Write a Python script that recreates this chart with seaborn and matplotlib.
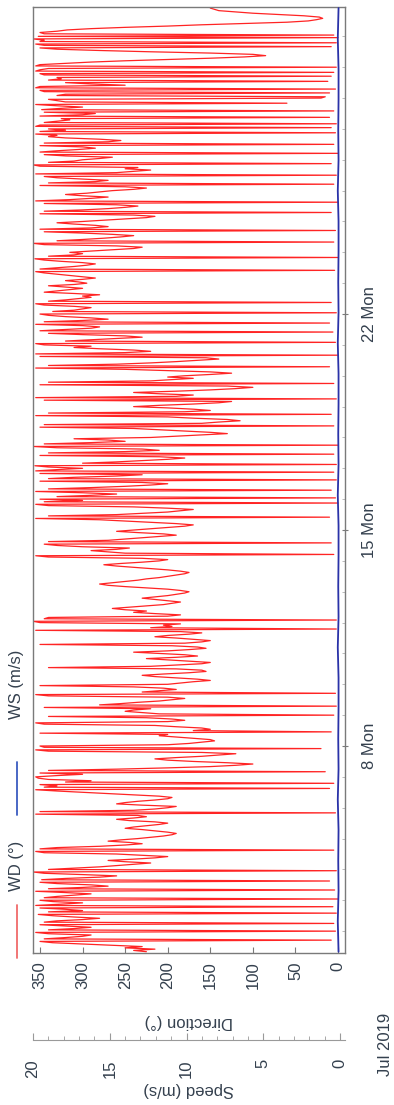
import matplotlib
matplotlib.use("Agg")
import matplotlib.pyplot as plt
import matplotlib.dates as mdates
from matplotlib.lines import Line2D
import seaborn as sns
import pandas as pd
import numpy as np

# wind direction (deg), hourly, one row per day (Jul 1 starts at 08:00)
wd_rows = [
    [225, 240, 215, 250, 230, 265, 300, 335, 350, 8, 345, 320, 300, 290, 340, 355],
    [3, 340, 310, 290, 320, 350, 5, 345, 330, 300, 280, 310, 335, 352, 2, 340, 300, 320, 350, 6, 355, 325, 300, 335],
    [350, 0, 345, 330, 310, 290, 320, 355, 4, 340, 300, 270, 290, 330, 350, 10, 348, 320, 280, 260, 300, 345, 358, 2],
    [340, 310, 280, 260, 240, 220, 250, 270, 240, 215, 200, 230, 260, 345, 355, 5, 350, 330, 280, 250, 230, 245, 270, 255],
    [235, 220, 205, 195, 190, 200, 215, 230, 250, 240, 225, 210, 200, 215, 245, 260, 240, 225, 235, 355, 3, 350, 240, 215],
    [200, 190, 230, 260, 250, 235, 215, 200, 195, 210, 240, 270, 300, 330, 355, 10, 345, 330, 350, 5, 320, 290, 340, 352],
    [355, 330, 300, 350, 15, 340, 260, 200, 150, 120, 100, 130, 170, 200, 215, 190, 160, 140, 120, 160, 340, 355, 20, 345],
    [350, 200, 175, 160, 145, 150, 170, 190, 210, 200, 350, 8, 170, 150, 160, 190, 215, 345, 355, 200, 180, 195, 225, 340],
    [5, 210, 230, 250, 240, 220, 345, 2, 280, 255, 235, 210, 195, 180, 200, 340, 355, 3, 230, 210, 190, 205, 240, 350],
    [200, 185, 170, 150, 165, 190, 215, 230, 205, 175, 155, 160, 190, 340, 220, 190, 160, 150, 175, 200, 225, 190, 165, 180],
    [210, 240, 200, 175, 155, 165, 195, 350, 180, 160, 150, 170, 190, 215, 200, 175, 160, 185, 355, 2, 220, 195, 205, 185],
    [350, 358, 2, 345, 340, 200, 185, 215, 240, 225, 250, 265, 245, 225, 205, 195, 185, 200, 215, 230, 215, 200, 190, 180],
    [175, 185, 200, 225, 250, 270, 280, 265, 250, 235, 225, 210, 200, 190, 180, 175, 185, 200, 220, 240, 260, 275, 255, 230],
    [210, 200, 230, 340, 355, 5, 250, 270, 290, 260, 245, 300, 330, 345, 8, 340, 270, 250, 230, 210, 190, 205, 235, 260],
    [240, 220, 200, 180, 170, 190, 220, 250, 280, 355, 10, 340, 260, 230, 200, 185, 170, 200, 240, 340, 355, 0, 345, 300],
    [350, 3, 330, 290, 260, 300, 355, 8, 340, 290, 250, 220, 200, 230, 350, 2, 340, 310, 260, 230, 350, 5, 355, 330],
    [300, 340, 356, 2, 300, 260, 230, 200, 180, 210, 350, 5, 340, 250, 210, 230, 330, 358, 0, 345, 290, 250, 270, 310],
    [220, 190, 160, 130, 150, 180, 210, 240, 350, 5, 345, 160, 140, 115, 130, 170, 200, 355, 8, 340, 180, 150, 170, 200],
    [240, 210, 170, 140, 125, 345, 2, 355, 190, 170, 210, 240, 190, 150, 120, 100, 130, 350, 5, 340, 220, 195, 170, 200],
    [180, 150, 125, 150, 200, 250, 355, 10, 340, 260, 220, 190, 165, 140, 155, 350, 0, 355, 250, 220, 240, 280, 310, 290],
    [345, 355, 3, 320, 290, 260, 230, 250, 300, 340, 6, 350, 320, 290, 280, 300, 355, 10, 345, 300, 270, 290, 320, 340],
    [350, 2, 335, 310, 300, 290, 310, 345, 355, 8, 340, 320, 305, 290, 300, 280, 310, 345, 330, 315, 300, 320, 340, 310],
    [295, 305, 320, 300, 285, 300, 315, 330, 345, 355, 4, 350, 330, 310, 295, 285, 300, 325, 345, 356, 0, 340, 310, 300],
    [315, 290, 265, 240, 230, 260, 345, 358, 5, 330, 300, 275, 255, 240, 265, 300, 345, 3, 350, 290, 270, 285, 310, 330],
    [300, 275, 250, 225, 215, 240, 350, 8, 345, 300, 270, 250, 235, 260, 345, 0, 355, 315, 290, 270, 300, 320, 295, 280],
    [265, 240, 225, 250, 350, 5, 340, 285, 270, 300, 330, 345, 2, 355, 260, 240, 220, 250, 235, 350, 358, 8, 340, 310],
    [300, 280, 265, 320, 345, 0, 350, 330, 305, 285, 300, 350, 5, 345, 270, 255, 280, 320, 340, 330, 355, 3, 350, 320],
    [340, 8, 355, 350, 2, 345, 330, 315, 325, 10, 350, 300, 285, 345, 5, 348, 325, 300, 330, 355, 60, 320, 330, 340],
    [20, 15, 330, 320, 10, 345, 350, 3, 355, 350, 250, 290, 320, 12, 340, 325, 330, 8, 345, 350, 5, 355, 350, 340],
    [2, 355, 350, 320, 290, 250, 200, 150, 110, 85, 100, 150, 220, 280, 330, 350, 8, 345, 355, 2, 350, 345, 358, 0],
    [352, 5, 345, 350, 330, 318, 290, 250, 200, 160, 110, 60, 35, 25, 18, 22, 40, 70, 100, 120, 140, 145, 150],
]
first_hour = 8

# wind speed (m/s), sensor stays near zero all month
ws_vals = [0.1, 0.15, 0.1, 0.12, 0.1, 0.15, 0.1, 0.12, 0.1, 0.1, 0.15,
           0.1, 0.12, 0.1, 0.1, 0.15, 0.1, 0.12, 0.1, 0.1, 0.15, 0.1,
           0.12, 0.1, 0.1, 0.15, 0.1, 0.12, 0.1, 0.1, 0.15, 0.1]

major_days = [8, 15, 22]

# build the long table
times, vals = [], []
for d, row in enumerate(wd_rows):
    h0 = first_hour if d == 0 else 0
    base = pd.Timestamp("2019-07-01") + pd.Timedelta(days=d)
    for i, v in enumerate(row):
        times.append(base + pd.Timedelta(hours=h0 + i))
        vals.append(v)
wd_df = pd.DataFrame({"time": times, "wd": vals})
ws_time = pd.date_range(times[0], times[-1], periods=len(ws_vals))
ws_df = pd.DataFrame({"time": ws_time, "ws": ws_vals})

sns.set_style("white")
plt.rcParams["font.family"] = ["Liberation Sans", "DejaVu Sans"]
txt = "#34404e"
grey = "#7a7a7a"

W, H = 394, 1105
fig = plt.figure(figsize=(W / 100, H / 100), dpi=100)
ax = fig.add_axes([33 / W, 1 - 953 / H, 312 / W, 946 / H])

sns.lineplot(data=wd_df, x="wd", y="time", orient="y", estimator=None,
             color="#ff2424", lw=0.9, ax=ax)
ax.set_xlim(358.2, -8.2)
ax.set_ylim(mdates.date2num(pd.Timestamp("2019-07-01 07:00")),
            mdates.date2num(pd.Timestamp("2019-07-31 22:50")))

ax.set_xticks(np.arange(0, 351, 50))
ax.tick_params(axis="x", direction="in", length=4, pad=6, labelsize=12,
               labelcolor=txt, color=grey, bottom=True, top=False, labelrotation=90)
ax.yaxis.tick_right()
ax.yaxis.set_major_locator(mdates.DayLocator(bymonthday=major_days))
ax.yaxis.set_minor_locator(mdates.DayLocator())
ax.yaxis.set_major_formatter(plt.FuncFormatter(
    lambda v, p: "%d %s" % (mdates.num2date(v).day, mdates.num2date(v).strftime("%a"))))
ax.tick_params(axis="y", which="major", direction="inout", length=5, pad=10,
               labelsize=12, labelcolor=txt, color=grey, labelrotation=90)
ax.tick_params(axis="y", which="minor", direction="in", length=2.5, color="#b0b0b0")
for lab in ax.get_yticklabels():
    lab.set_verticalalignment("center")
ax.set_xlabel("")
ax.set_ylabel("")
for s in ax.spines.values():
    s.set_color(grey)
    s.set_linewidth(1)

# speed axis, offset below the direction labels
tw = ax.twiny()
sns.lineplot(data=ws_df, x="ws", y="time", orient="y", estimator=None,
             color="#2a32a8", lw=1.3, ax=tw)
tw.set_xlim(19.94, -0.32)
tw.xaxis.set_ticks_position("bottom")
tw.xaxis.set_label_position("bottom")
tw.spines["bottom"].set_position(("outward", 62.5))
for k in ["top", "left", "right"]:
    tw.spines[k].set_visible(False)
tw.spines["bottom"].set_color("#9a9a9a")
tw.set_xticks([0, 5, 10, 15, 20])
tw.set_xticks(np.arange(0, 21, 1), minor=True)
tw.tick_params(axis="x", which="major", direction="in", length=5, pad=14,
               labelsize=12, labelcolor=txt, color="#9a9a9a", labelrotation=90)
tw.tick_params(axis="x", which="minor", direction="in", length=3, color="#9a9a9a")
tw.set_xlabel("")
tw.set_ylabel("")

# axis titles (rotated with the chart)
fig.text(189 / W, 1 - 1022 / H, "Direction (°)", rotation=180, ha="center",
         va="center", fontsize=12, color=txt)
fig.text(189 / W, 1 - 1090 / H, "Speed (m/s)", rotation=180, ha="center",
         va="center", fontsize=12, color=txt)
fig.text(385 / W, 1 - 1044 / H, "Jul 2019", rotation=90, ha="center",
         va="center", fontsize=12, color=txt)

# legend
fig.add_artist(Line2D([17 / W, 17 / W], [1 - 958 / H, 1 - 905 / H],
                      color="#f06a6a", lw=1.3, transform=fig.transFigure))
fig.text(17 / W, 1 - 866 / H, "WD (°)", rotation=90, ha="center", va="center",
         fontsize=12, color=txt)
fig.add_artist(Line2D([17 / W, 17 / W], [1 - 815 / H, 1 - 762 / H],
                      color="#3a5cc0", lw=1.3, transform=fig.transFigure))
fig.text(17 / W, 1 - 684 / H, "WS (m/s)", rotation=90, ha="center", va="center",
         fontsize=12, color=txt)

fig.savefig("out.png", dpi=100)
